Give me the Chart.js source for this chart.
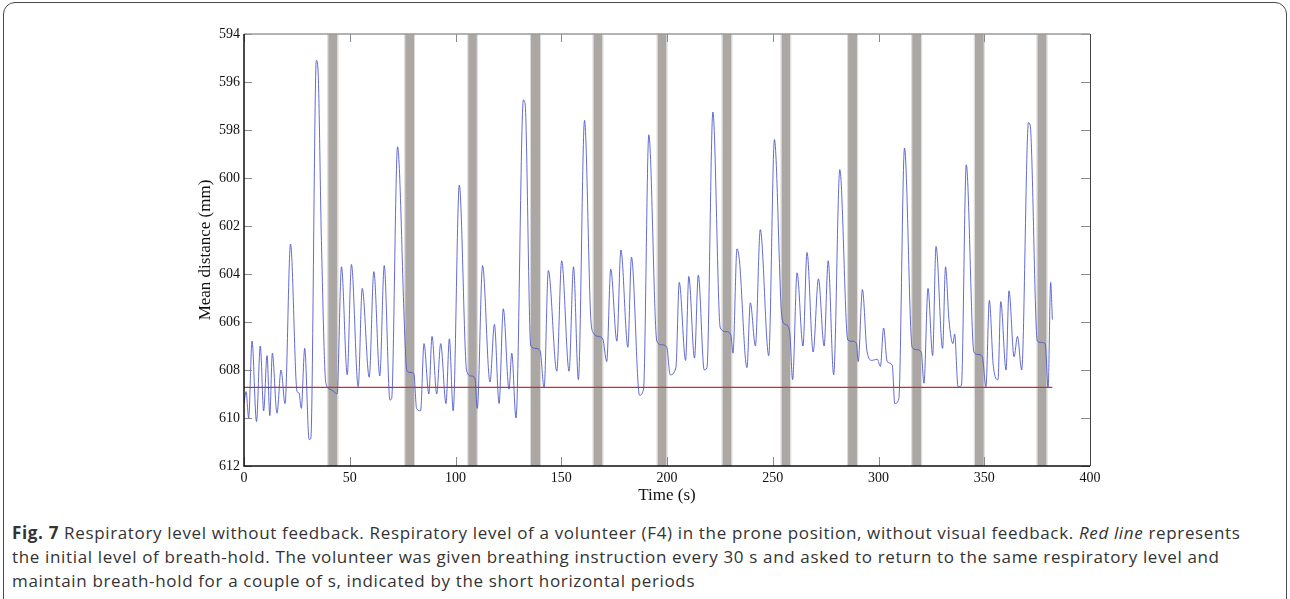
<!DOCTYPE html>
<html>
<head>
<meta charset="utf-8">
<script src="https://cdn.jsdelivr.net/npm/chart.js@4.4.1/dist/chart.umd.min.js"></script>
<style>
  body { margin: 0; background: #fff; width: 1290px; height: 599px; overflow: hidden; position: relative; }
  #frame { position: absolute; left: 3px; top: 2px; width: 1282px; height: 660px; border: 1.5px solid #4a4a4a; border-radius: 12px; }
  #wrap { position: absolute; left: 0; top: 0; width: 1290px; height: 510px; }
  #caption { position: absolute; left: 12px; top: 521px; width: 1275px; font-family: "Open Sans", sans-serif; font-size: 17px; letter-spacing: 0.65px; line-height: 24px; color: #333; white-space: nowrap; }
</style>
</head>
<body>
<div id="frame"></div>
<div id="wrap"><canvas id="respChart" width="1290" height="510"></canvas></div>
<div id="caption"><b>Fig. 7</b> Respiratory level without feedback. Respiratory level of a volunteer (F4) in the prone position, without visual feedback. <i>Red line</i> represents<br>the initial level of breath-hold. The volunteer was given breathing instruction every 30 s and asked to return to the same respiratory level and<br>maintain breath-hold for a couple of s, indicated by the short horizontal periods</div>
<script>
// temps (s) et distance moyenne (mm)
const timeS = [
  0.0, 1.0, 2.2, 3.8, 5.9, 7.7, 9.3, 10.9, 12.2, 13.4, 15.6, 17.5, 19.4, 22.0, 25.1, 26.0, 27.1, 28.7, 30.8, 31.6,
  34.2, 35.0, 36.6, 38.7, 40.6, 42.5, 44.0, 46.1, 48.8, 50.8, 54.0, 55.9, 59.2, 61.4, 64.2, 66.3, 69.0, 69.8, 72.6, 76.0,
  76.9, 78.5, 80.3, 81.6, 83.5, 85.1, 87.4, 88.9, 91.1, 93.0, 95.5, 97.1, 98.9, 101.8, 105.3, 107.5, 109.2, 110.3, 112.8, 116.3,
  118.4, 120.6, 122.6, 125.3, 126.6, 128.6, 132.1, 132.9, 135.6, 138.0, 140.0, 141.9, 143.9, 147.9, 150.2, 153.7, 155.8, 158.1, 161.0, 164.0,
  165.2, 167.5, 169.6, 171.5, 173.4, 176.3, 178.2, 181.5, 183.2, 187.0, 188.9, 191.4, 195.2, 197.5, 199.9, 201.5, 204.2, 205.8, 208.8, 210.3,
  213.0, 214.8, 217.6, 218.9, 221.7, 225.2, 228.0, 230.2, 231.2, 233.1, 234.2, 237.8, 239.4, 241.8, 244.1, 248.1, 250.8, 254.4, 256.0, 258.0,
  259.4, 261.5, 264.3, 266.2, 269.1, 271.6, 274.3, 276.2, 278.8, 281.7, 285.5, 287.5, 289.6, 290.4, 292.4, 294.6, 297.0, 299.4, 300.9, 302.4,
  304.1, 306.5, 307.7, 309.6, 312.3, 315.9, 318.0, 320.2, 321.5, 323.4, 325.6, 327.2, 330.3, 331.7, 333.3, 335.2, 336.0, 337.6, 339.2, 341.5,
  345.1, 347.0, 349.1, 350.8, 352.4, 354.3, 356.5, 357.8, 360.3, 361.7, 364.1, 365.7, 367.7, 370.9, 371.7, 375.1, 377.0, 378.8, 380.2, 381.4,
  382.2
];
const distMM = [
  609.4, 608.9, 610.0, 606.8, 610.15, 607.0, 609.7, 607.4, 609.9, 607.3, 609.8, 608.0, 609.4, 602.75, 608.9, 608.95, 609.6, 607.1, 610.9, 610.85,
  595.1, 595.5, 602.6, 608.55, 608.8, 608.9, 609.0, 603.7, 608.2, 603.6, 608.7, 604.6, 608.3, 603.9, 608.25, 603.65, 609.25, 609.2, 598.7, 606.5,
  608.0, 608.1, 608.15, 609.6, 609.7, 606.9, 609.0, 606.6, 609.0, 606.9, 609.4, 606.7, 609.7, 600.3, 608.05, 608.25, 608.35, 609.6, 603.65, 608.5,
  606.1, 609.4, 605.45, 608.8, 607.3, 610.0, 596.75, 596.9, 607.0, 607.1, 607.2, 608.75, 603.85, 608.05, 603.45, 608.05, 603.7, 608.4, 597.6, 605.9,
  606.45, 606.6, 606.7, 607.65, 603.8, 606.8, 603.0, 607.05, 603.3, 609.05, 608.8, 598.2, 606.8, 606.95, 607.05, 608.2, 607.9, 604.35, 607.6, 604.1,
  607.5, 604.05, 608.0, 607.9, 597.25, 606.25, 606.4, 606.55, 607.3, 602.95, 603.4, 607.9, 605.2, 607.0, 602.15, 607.4, 598.4, 605.85, 606.1, 606.4,
  608.4, 603.95, 607.0, 603.1, 607.25, 604.2, 607.0, 603.45, 608.2, 599.65, 606.75, 606.8, 606.9, 607.65, 604.65, 607.25, 607.6, 607.55, 607.85, 606.25,
  607.65, 607.8, 609.4, 609.2, 598.75, 607.05, 607.15, 607.25, 608.55, 604.6, 607.4, 602.85, 607.1, 603.7, 605.9, 606.9, 606.5, 608.7, 608.65, 599.45,
  607.25, 607.35, 607.45, 608.7, 605.1, 607.85, 608.4, 605.15, 608.0, 604.7, 607.45, 606.6, 608.0, 597.7, 597.8, 606.8, 606.85, 606.9, 608.75, 604.35,
  605.9
];

// niveau initial d'apnée (ligne rouge)
const refLevel = 608.72;
const refStart = 0;
const refEnd = 382.2;

// périodes d'apnée (bandes grises)
const holdStart = [39.8, 76.2, 106.0, 135.7, 165.2, 195.5, 226.2, 254.1, 285.6, 315.9, 345.5, 375.1];
const holdEnd   = [44.2, 80.4, 110.1, 140.0, 169.5, 199.8, 230.5, 258.3, 289.9, 320.2, 349.8, 379.5];

const xTicks = [0, 50, 100, 150, 200, 250, 300, 350, 400];
const yTicks = [594, 596, 598, 600, 602, 604, 606, 608, 610, 612];

// bandes grises sous les courbes
const holdBands = {
  id: 'holdBands',
  beforeDatasetsDraw(chart) {
    const { ctx, chartArea, scales } = chart;
    ctx.save();
    holdStart.forEach((s, i) => {
      const x1 = scales.x.getPixelForValue(s);
      const x2 = scales.x.getPixelForValue(holdEnd[i]);
      ctx.fillStyle = '#aba7a5';
      ctx.fillRect(x1, chartArea.top, x2 - x1, chartArea.bottom - chartArea.top);
      ctx.fillStyle = '#dcdad9';
      ctx.fillRect(x1 - 1, chartArea.top, 1, chartArea.bottom - chartArea.top);
      ctx.fillRect(x2, chartArea.top, 1, chartArea.bottom - chartArea.top);
    });
    ctx.restore();
  }
};

// cadre et graduations vers l'intérieur, style matlab
const matlabBox = {
  id: 'matlabBox',
  afterDatasetsDraw(chart) {
    const { ctx, chartArea: a, scales } = chart;
    ctx.save();
    ctx.lineWidth = 1;
    ctx.strokeStyle = '#8a8a8a';
    xTicks.forEach(v => {
      const x = Math.round(scales.x.getPixelForValue(v)) + 0.5;
      ctx.beginPath(); ctx.moveTo(x, a.bottom); ctx.lineTo(x, a.bottom - 9); ctx.stroke();
      ctx.beginPath(); ctx.moveTo(x, a.top); ctx.lineTo(x, a.top + 8); ctx.stroke();
    });
    yTicks.forEach(v => {
      const y = Math.round(scales.y.getPixelForValue(v)) + 0.5;
      ctx.beginPath(); ctx.moveTo(a.left, y); ctx.lineTo(a.left + 8, y); ctx.stroke();
      ctx.beginPath(); ctx.moveTo(a.right, y); ctx.lineTo(a.right - 9, y); ctx.stroke();
    });
    ctx.lineWidth = 1.5;
    ctx.strokeStyle = '#9a9a9a';
    ctx.beginPath(); ctx.moveTo(a.left, a.top); ctx.lineTo(a.right, a.top); ctx.stroke();
    ctx.strokeStyle = '#444';
    ctx.lineWidth = 1;
    ctx.beginPath(); ctx.moveTo(a.right + 0.5, a.top); ctx.lineTo(a.right + 0.5, a.bottom); ctx.stroke();
    ctx.strokeStyle = '#111';
    ctx.lineWidth = 1.5;
    ctx.beginPath(); ctx.moveTo(a.left, a.top); ctx.lineTo(a.left, a.bottom); ctx.lineTo(a.right, a.bottom); ctx.stroke();
    ctx.restore();
  }
};

const ctx = document.getElementById('respChart').getContext('2d');
new Chart(ctx, {
  type: 'line',
  data: {
    datasets: [
      {
        label: 'Mean distance',
        data: timeS.map((t, i) => ({ x: t, y: distMM[i] })),
        borderColor: 'rgba(72, 82, 200, 0.85)',
        borderWidth: 1,
        pointRadius: 0,
        cubicInterpolationMode: 'monotone',
        fill: false
      },
      {
        label: 'Initial level',
        data: [{ x: refStart, y: refLevel }, { x: refEnd, y: refLevel }],
        borderColor: '#c9302c',
        borderWidth: 1.3,
        pointRadius: 0,
        fill: false
      }
    ]
  },
  options: {
    responsive: false,
    animation: false,
    layout: { padding: { left: 190, right: 200, top: 34, bottom: 0 } },
    plugins: {
      legend: { display: false },
      tooltip: { enabled: false }
    },
    scales: {
      x: {
        type: 'linear',
        min: 0,
        max: 400,
        afterFit: s => { s.height = 44; },
        afterBuildTicks: s => { s.ticks = xTicks.map(v => ({ value: v })); },
        grid: { display: false, drawTicks: false },
        border: { display: false },
        ticks: { padding: 4, color: '#111', font: { family: 'Liberation Serif', size: 14 }, maxRotation: 0 },
        title: { display: true, text: 'Time (s)', color: '#111', font: { family: 'Liberation Serif', size: 17 }, padding: { top: 0, bottom: 4 } }
      },
      y: {
        type: 'linear',
        min: 594,
        max: 612,
        reverse: true,
        afterFit: s => { s.width = 54; },
        afterBuildTicks: s => { s.ticks = yTicks.map(v => ({ value: v })); },
        grid: { display: false, drawTicks: false },
        border: { display: false },
        ticks: { padding: 4, color: '#111', font: { family: 'Liberation Serif', size: 14 } },
        title: { display: true, text: 'Mean distance (mm)', color: '#111', font: { family: 'Liberation Serif', size: 17 }, padding: { top: 5, bottom: 0 } }
      }
    }
  },
  plugins: [holdBands, matlabBox]
});
</script>
</body>
</html>
